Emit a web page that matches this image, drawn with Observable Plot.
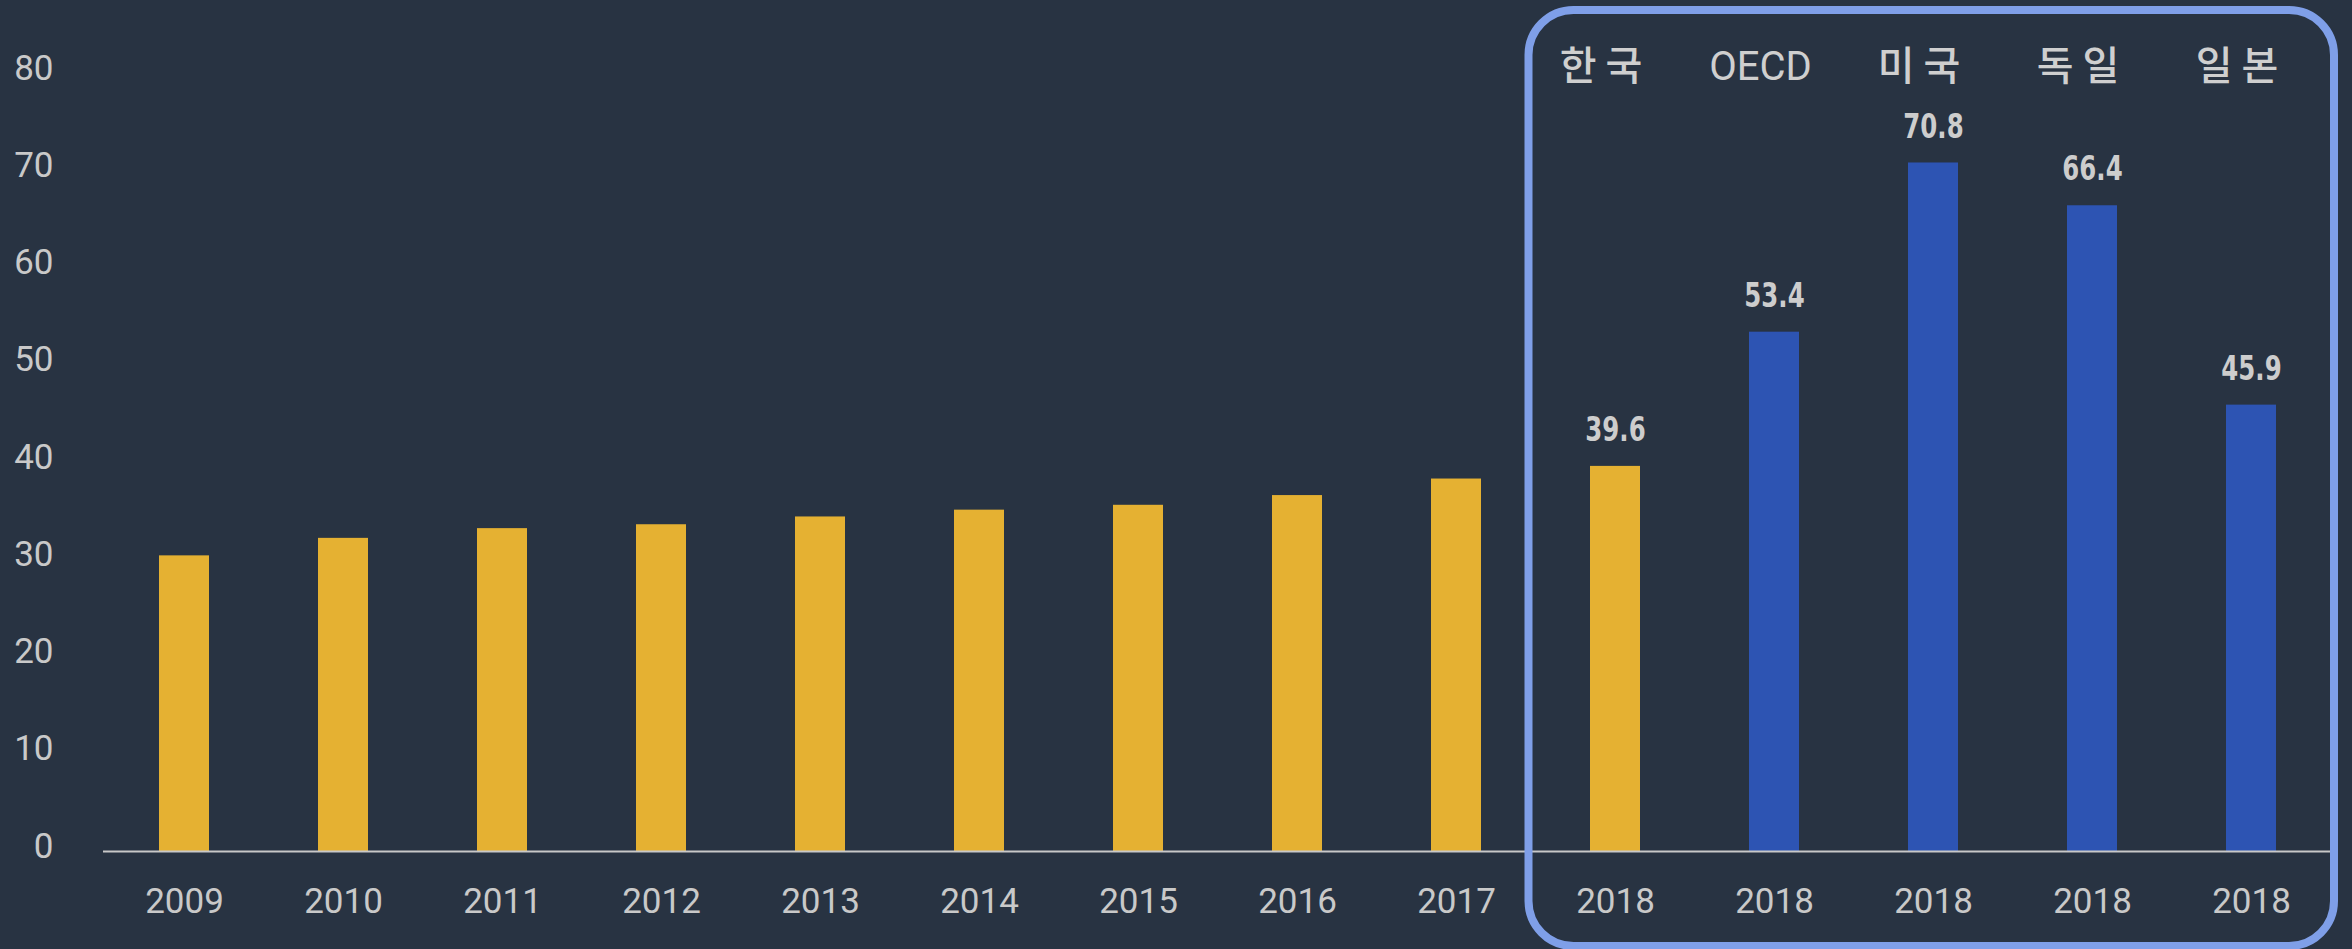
<!DOCTYPE html>
<html>
<head>
<meta charset="utf-8">
<script src="https://cdn.jsdelivr.net/npm/d3@7"></script>
<script src="https://cdn.jsdelivr.net/npm/@observablehq/plot@0.6"></script>
<style>
  html, body { margin: 0; padding: 0; background: #283342; }
  #chart svg { display: block; }
  #chart text.hangul { letter-spacing: 9px; font-weight: 500; }
</style>
</head>
<body>
<div id="chart"></div>
<script>
// ---- data ----
const years = ["2009", "2010", "2011", "2012", "2013", "2014", "2015", "2016", "2017", "2018"];
const koreaValues = [30.4, 32.2, 33.2, 33.6, 34.4, 35.1, 35.6, 36.6, 38.3, 39.6];
const countries = ["한국", "OECD", "미국", "독일", "일본"];
const countryValues = [39.6, 53.4, 70.8, 66.4, 45.9];
const countryYear = "2018";
const yTicks = [0, 10, 20, 30, 40, 50, 60, 70, 80];

// band keys: the Korean series by year, then the other countries (all 2018)
const compareKeys = [countryYear, ...countries.slice(1)];
const keys = [...years, ...countries.slice(1)];
const xTickLabels = [...years, ...countries.slice(1).map(() => countryYear)];
const tickLabelOf = new Map(keys.map((k, i) => [k, xTickLabels[i]]));

const yellow = "#e5b132";
const blue = "#2d54b3";
const textColor = "#c9c9c9";

const bars = [
  ...years.map((y, i) => ({key: y, value: koreaValues[i], group: "korea"})),
  ...countries.slice(1).map((c, i) => ({key: c, value: countryValues[i + 1], group: "other"}))
];
const compare = countries.map((c, i) => ({key: compareKeys[i], name: c, value: countryValues[i]}));

const W = 2352, H = 949;
const marginLeft = 103, marginRight = 21, marginTop = 73, marginBottom = 98;

const chart = Plot.plot({
  width: W,
  height: H,
  marginLeft, marginRight, marginTop, marginBottom,
  style: {background: "#283342", color: textColor, fontFamily: "Roboto, 'Noto Sans CJK KR', sans-serif"},
  x: {domain: keys, paddingInner: 0.6863, paddingOuter: 0.333, axis: null},
  y: {domain: [0, 80], axis: null},
  marks: [
    Plot.axisY({ticks: yTicks, tickSize: 0, tickPadding: 50, fontSize: 35, dy: -5, label: null, fill: textColor}),
    Plot.axisX({tickSize: 0, tickPadding: 37, fontSize: 35, label: null, fill: textColor,
      tickFormat: d => tickLabelOf.get(d)}),
    Plot.barY(bars, {x: "key", y: "value", fill: d => d.group === "korea" ? yellow : blue}),
    Plot.ruleY([0], {stroke: "#c8c8c8", strokeWidth: 2}),
    Plot.text(compare, {x: "key", y: "value", text: d => d.value.toFixed(1), dy: -36,
      fontSize: 33, fontWeight: "bold", fontFamily: "'DejaVu Sans', sans-serif",
      fill: "#cdcdcd", ariaLabel: () => "vlabel"}),
    Plot.text(compare, {x: "key", text: "name", frameAnchor: "top", lineAnchor: "middle", dy: -6, dx: -14,
      fontSize: 40, fontWeight: 400, fontFamily: "Roboto, 'Noto Sans CJK KR', sans-serif",
      fill: "#cfcfcf", ariaLabel: () => "hlabel"})
  ]
});

document.getElementById("chart").appendChild(chart);

const svg = d3.select(chart);
// condense the value labels horizontally without moving their anchors
svg.selectAll("text[aria-label='vlabel']").each(function () {
  const w = this.getComputedTextLength();
  if (w > 0) {
    this.setAttribute("textLength", (w * 0.74).toFixed(1));
    this.setAttribute("lengthAdjust", "spacingAndGlyphs");
  }
});
svg.selectAll("text[aria-label='hlabel']")
  .filter(function () { return /[\uac00-\ud7a3]/.test(this.textContent); })
  .classed("hangul", true)
  .attr("dx", 4);

// rounded frame around the 2018 comparison, derived from the x scale
const xs = chart.scale("x");
const gap = xs.step - xs.bandwidth;
const boxLeft = xs.apply(countryYear) - gap / 2 - 7;
const boxRight = W - marginRight + 3;
svg.append("rect")
  .attr("x", boxLeft)
  .attr("y", 10)
  .attr("width", boxRight - boxLeft)
  .attr("height", H - 3 - 10)
  .attr("rx", 45)
  .attr("ry", 45)
  .attr("fill", "none")
  .attr("stroke", "#7f9fe8")
  .attr("stroke-width", 8);
</script>
</body>
</html>
